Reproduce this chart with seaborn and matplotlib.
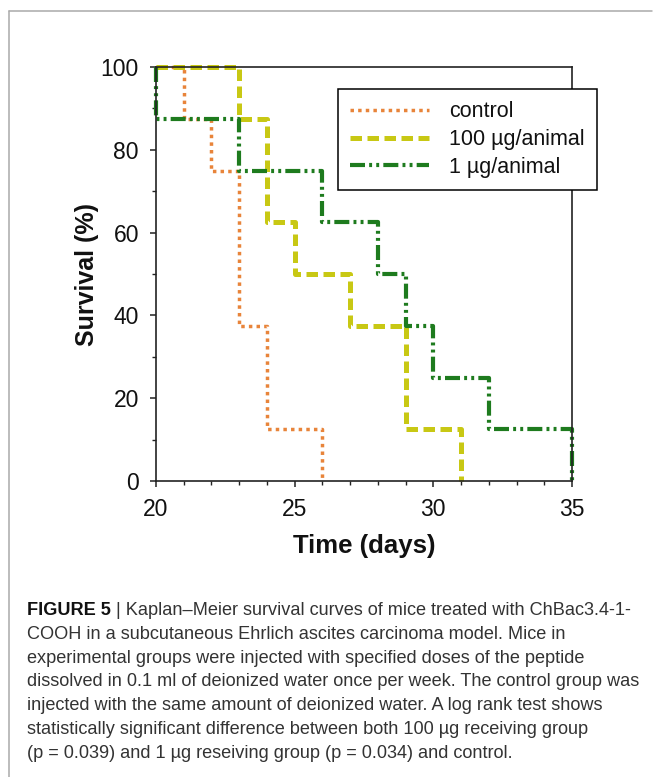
import matplotlib
matplotlib.use("Agg")
import matplotlib.pyplot as plt
import seaborn as sns
from matplotlib.lines import Line2D
from matplotlib.ticker import MultipleLocator
from matplotlib import font_manager

# ---------------- data ----------------
series_labels = ["control", "100 \u00b5g/animal", "1 \u00b5g/animal"]
control_days = [20, 21, 22, 23, 24, 26]
control_surv = [100, 87.5, 75, 37.5, 12.5, 0]
high_days = [20, 23, 24, 25, 27, 29, 31]
high_surv = [100, 87.5, 62.5, 50, 37.5, 12.5, 0]
low_days = [20, 20, 23, 26, 28, 29, 30, 32, 35]
low_surv = [100, 87.5, 75, 62.5, 50, 37.5, 25, 12.5, 0]
x_ticks = [20, 25, 30, 35]
y_ticks = [0, 20, 40, 60, 80, 100]
x_label = "Time (days)"
y_label = "Survival (%)"
caption_bold = "FIGURE 5"
caption_lines = [
    " | Kaplan\u2013Meier survival curves of mice treated with ChBac3.4-1-",
    "COOH in a subcutaneous Ehrlich ascites carcinoma model. Mice in",
    "experimental groups were injected with specified doses of the peptide",
    "dissolved in 0.1 ml of deionized water once per week. The control group was",
    "injected with the same amount of deionized water. A log rank test shows",
    "statistically significant difference between both 100 \u00b5g receiving group",
    "(p = 0.039) and 1 \u00b5g reseiving group (p = 0.034) and control.",
]

# ---------------- style ----------------
sns.set_style("ticks")
plt.rcParams["font.family"] = ["Liberation Sans", "DejaVu Sans"]

W, H = 654, 777
fig = plt.figure(figsize=(W / 100, H / 100), dpi=100)
fig.patch.set_facecolor("white")

ax = fig.add_axes([156 / W, 1 - 481 / H, 416 / W, 414 / H])
ax.set_facecolor("white")

styles = [
    dict(color="#E8843A", lw=2.5, ls=(0, (1, 1.2))),
    dict(color="#C8C814", lw=3.6, ls=(0, (2.3, 1.1))),
    dict(color="#1E7B1E", lw=3.0, ls=(0, (3.6, 1, 0.7, 1, 0.7, 1))),
]
all_days = [control_days, high_days, low_days]
all_surv = [control_surv, high_surv, low_surv]
for days, surv, label, st in zip(all_days, all_surv, series_labels, styles):
    sns.lineplot(x=days, y=surv, ax=ax, estimator=None, sort=False,
                 drawstyle="steps-post", color=st["color"],
                 linewidth=st["lw"], linestyle=st["ls"], label=label,
                 clip_on=False)

ax.set_xlim(20, 35)
ax.set_ylim(0, 100)
ax.set_xticks(x_ticks)
ax.set_yticks(y_ticks)
ax.xaxis.set_minor_locator(MultipleLocator(1))
ax.yaxis.set_minor_locator(MultipleLocator(10))
for sp in ax.spines.values():
    sp.set_visible(True)
    sp.set_linewidth(1.2)
    sp.set_color("#222222")
ax.tick_params(which="major", direction="out", length=4.3, width=1.1,
               pad=8, labelsize=16.5, color="#222222", labelcolor="#111111")
ax.tick_params(which="minor", direction="out", length=3, width=1.0,
               color="#222222")

ax.set_xlabel(x_label, fontsize=18.5, fontweight="bold", labelpad=9, color="#111111")
ax.set_ylabel(y_label, fontsize=18, fontweight="bold", labelpad=1, color="#111111")

leg = ax.legend(loc="upper left", bbox_to_anchor=(0.4375, 0.947),
                borderaxespad=0, frameon=True, fancybox=False,
                edgecolor="black", framealpha=1, fontsize=15.5,
                handlelength=3.67, handletextpad=0.93, labelspacing=0.32,
                borderpad=0.57)
leg.get_frame().set_linewidth(1.1)
for t in leg.get_texts():
    t.set_color("#111111")

# ---------------- page border ----------------
fig.add_artist(Line2D([9 / W, 652 / W], [1 - 11 / H, 1 - 11 / H],
                      transform=fig.transFigure, color="#aaaaaa", lw=1.1))
fig.add_artist(Line2D([9 / W, 9 / W], [1 - 11 / H, 0],
                      transform=fig.transFigure, color="#aaaaaa", lw=1.1))

# ---------------- caption ----------------
names = {f.name for f in font_manager.fontManager.ttflist}
cap_font = "Liberation Sans Narrow" if "Liberation Sans Narrow" in names else "Liberation Sans"
renderer = fig.canvas.get_renderer()
probe = fig.text(27 / W, 0.5, caption_lines[3], fontsize=13, family=[cap_font, "DejaVu Sans"])
pw = probe.get_window_extent(renderer).width
probe.remove()
cap_size = 13 * 613 / pw

x0 = 27 / W
base0 = 615
step = 23.8
cap_color = "#333333"
tb = fig.text(x0, 1 - base0 / H, caption_bold, fontsize=cap_size, fontweight="bold",
              family=[cap_font, "DejaVu Sans"], va="baseline", color="#111111")
bw = tb.get_window_extent(renderer).width
fig.text(x0 + bw / W, 1 - base0 / H, caption_lines[0], fontsize=cap_size,
         family=[cap_font, "DejaVu Sans"], va="baseline", color=cap_color)
for i, line in enumerate(caption_lines[1:], start=1):
    fig.text(x0, 1 - (base0 + step * i) / H, line, fontsize=cap_size,
             family=[cap_font, "DejaVu Sans"], va="baseline", color=cap_color)

fig.savefig("out.png", dpi=100, facecolor="white")
